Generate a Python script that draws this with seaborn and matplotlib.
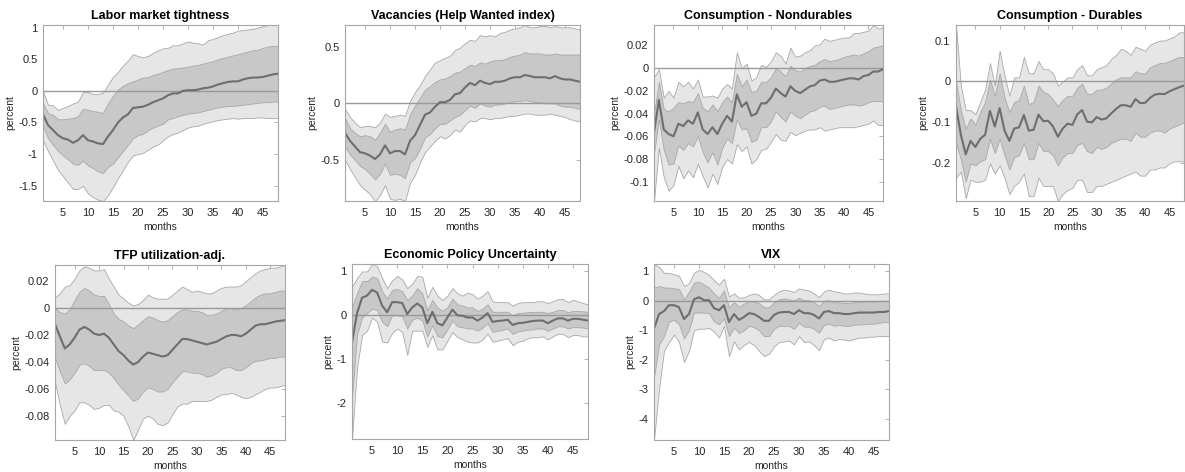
import numpy as np
import pandas as pd
import matplotlib
matplotlib.use("Agg")
import matplotlib.pyplot as plt
import seaborn as sns

months = list(range(1, 49))

# ---- Labor market tightness ----
lmt_med = [-0.37, -0.54, -0.62, -0.70, -0.75, -0.77, -0.82, -0.78, -0.70, -0.78, -0.80, -0.83, -0.84, -0.72, -0.62, -0.50,
           -0.42, -0.37, -0.27, -0.26, -0.25, -0.22, -0.18, -0.15, -0.12, -0.07, -0.04, -0.04, 0.00, 0.01, 0.01, 0.02,
           0.04, 0.05, 0.07, 0.10, 0.12, 0.14, 0.15, 0.15, 0.18, 0.20, 0.21, 0.21, 0.22, 0.24, 0.26, 0.27]
lmt_in_hi = [-0.20, -0.35, -0.38, -0.45, -0.45, -0.44, -0.43, -0.40, -0.28, -0.30, -0.32, -0.33, -0.35, -0.20, -0.08, 0.02,
             0.08, 0.12, 0.15, 0.18, 0.21, 0.22, 0.25, 0.27, 0.30, 0.33, 0.35, 0.36, 0.37, 0.38, 0.40, 0.41,
             0.43, 0.45, 0.47, 0.50, 0.52, 0.54, 0.56, 0.58, 0.60, 0.62, 0.64, 0.65, 0.68, 0.70, 0.71, 0.71]
lmt_in_lo = [-0.55, -0.75, -0.85, -0.95, -1.02, -1.08, -1.15, -1.17, -1.10, -1.18, -1.22, -1.27, -1.30, -1.20, -1.15, -1.05,
             -0.95, -0.85, -0.75, -0.70, -0.68, -0.62, -0.58, -0.55, -0.52, -0.45, -0.43, -0.40, -0.38, -0.36, -0.35, -0.34,
             -0.32, -0.30, -0.28, -0.26, -0.25, -0.24, -0.24, -0.23, -0.22, -0.21, -0.20, -0.19, -0.18, -0.18, -0.17, -0.17]
lmt_out_hi = [0.00, -0.22, -0.23, -0.30, -0.27, -0.24, -0.20, -0.17, -0.02, -0.02, -0.05, -0.05, -0.03, 0.10, 0.22, 0.30,
              0.40, 0.48, 0.58, 0.55, 0.53, 0.55, 0.60, 0.64, 0.67, 0.68, 0.72, 0.72, 0.75, 0.78, 0.76, 0.75,
              0.73, 0.80, 0.82, 0.85, 0.88, 0.90, 0.92, 0.95, 0.96, 0.97, 0.98, 1.00, 1.02, 1.04, 1.04, 1.04]
lmt_out_lo = [-0.78, -0.95, -1.10, -1.25, -1.35, -1.45, -1.55, -1.55, -1.50, -1.62, -1.68, -1.72, -1.74, -1.65, -1.52, -1.38,
              -1.25, -1.12, -1.02, -1.00, -0.98, -0.93, -0.88, -0.85, -0.78, -0.72, -0.68, -0.66, -0.62, -0.58, -0.56, -0.55,
              -0.52, -0.50, -0.48, -0.46, -0.45, -0.44, -0.43, -0.44, -0.43, -0.43, -0.43, -0.42, -0.42, -0.43, -0.43, -0.43]

# ---- Vacancies (Help Wanted index) ----
vac_med = [-0.26, -0.33, -0.38, -0.43, -0.44, -0.46, -0.49, -0.45, -0.37, -0.44, -0.42, -0.42, -0.45, -0.33, -0.28, -0.19,
           -0.10, -0.08, -0.03, 0.01, 0.01, 0.03, 0.08, 0.09, 0.14, 0.18, 0.16, 0.20, 0.18, 0.17, 0.19, 0.19,
           0.20, 0.22, 0.23, 0.23, 0.25, 0.24, 0.23, 0.23, 0.23, 0.22, 0.24, 0.22, 0.21, 0.21, 0.20, 0.19]
vac_in_hi = [-0.13, -0.22, -0.26, -0.29, -0.28, -0.29, -0.32, -0.26, -0.18, -0.25, -0.23, -0.22, -0.23, -0.10, -0.02, 0.05,
             0.12, 0.15, 0.19, 0.21, 0.22, 0.24, 0.27, 0.28, 0.31, 0.34, 0.33, 0.36, 0.35, 0.37, 0.38, 0.38,
             0.39, 0.41, 0.42, 0.43, 0.45, 0.44, 0.44, 0.44, 0.43, 0.43, 0.44, 0.43, 0.43, 0.43, 0.43, 0.43]
vac_in_lo = [-0.38, -0.45, -0.50, -0.55, -0.58, -0.62, -0.67, -0.62, -0.53, -0.63, -0.62, -0.63, -0.66, -0.52, -0.48, -0.40,
             -0.30, -0.27, -0.22, -0.18, -0.18, -0.15, -0.12, -0.10, -0.06, -0.02, -0.04, 0.00, -0.02, -0.03, -0.01, -0.01,
             0.00, 0.01, 0.02, 0.02, 0.03, 0.02, 0.01, 0.01, 0.00, 0.00, 0.00, -0.02, -0.03, -0.03, -0.04, -0.05]
vac_out_hi = [-0.05, -0.12, -0.17, -0.21, -0.20, -0.20, -0.21, -0.17, -0.09, -0.12, -0.11, -0.10, -0.11, 0.02, 0.10, 0.16,
              0.24, 0.30, 0.36, 0.38, 0.40, 0.42, 0.47, 0.49, 0.53, 0.56, 0.55, 0.60, 0.59, 0.60, 0.59, 0.62,
              0.63, 0.65, 0.66, 0.67, 0.69, 0.67, 0.67, 0.68, 0.68, 0.67, 0.68, 0.67, 0.67, 0.67, 0.66, 0.65]
vac_out_lo = [-0.50, -0.58, -0.65, -0.72, -0.76, -0.80, -0.86, -0.81, -0.72, -0.84, -0.85, -0.84, -0.86, -0.70, -0.63, -0.52,
              -0.43, -0.38, -0.33, -0.29, -0.31, -0.28, -0.23, -0.25, -0.19, -0.15, -0.16, -0.13, -0.13, -0.14, -0.13, -0.13,
              -0.12, -0.11, -0.11, -0.10, -0.09, -0.09, -0.10, -0.10, -0.10, -0.09, -0.10, -0.11, -0.12, -0.14, -0.15, -0.16]

# ---- Consumption - Nondurables ----
cnd_med = [-0.057, -0.028, -0.054, -0.058, -0.060, -0.049, -0.051, -0.046, -0.049, -0.039, -0.054, -0.058, -0.052, -0.058, -0.049, -0.042,
           -0.047, -0.023, -0.034, -0.030, -0.042, -0.040, -0.031, -0.031, -0.026, -0.018, -0.022, -0.025, -0.016, -0.020, -0.022, -0.019,
           -0.016, -0.015, -0.011, -0.010, -0.012, -0.012, -0.011, -0.010, -0.009, -0.009, -0.010, -0.007, -0.006, -0.003, -0.003, -0.001]
cnd_in_hi = [-0.040, -0.012, -0.036, -0.038, -0.035, -0.030, -0.031, -0.029, -0.030, -0.022, -0.035, -0.038, -0.032, -0.038, -0.030, -0.025,
             -0.030, -0.005, -0.016, -0.010, -0.021, -0.020, -0.012, -0.012, -0.008, 0.000, -0.003, -0.007, 0.002, -0.002, -0.003, 0.000,
             0.002, 0.003, 0.006, 0.008, 0.006, 0.007, 0.008, 0.010, 0.011, 0.012, 0.011, 0.013, 0.015, 0.018, 0.019, 0.020]
cnd_in_lo = [-0.075, -0.045, -0.072, -0.085, -0.084, -0.068, -0.072, -0.066, -0.069, -0.060, -0.074, -0.083, -0.074, -0.085, -0.070, -0.062,
             -0.066, -0.045, -0.054, -0.053, -0.065, -0.063, -0.052, -0.052, -0.047, -0.038, -0.043, -0.047, -0.038, -0.042, -0.044, -0.041,
             -0.038, -0.037, -0.034, -0.033, -0.036, -0.035, -0.034, -0.033, -0.032, -0.032, -0.033, -0.032, -0.030, -0.029, -0.029, -0.029]
cnd_out_hi = [-0.008, -0.001, -0.026, -0.020, -0.026, -0.012, -0.016, -0.012, -0.018, -0.010, -0.025, -0.025, -0.024, -0.026, -0.018, -0.014,
              -0.018, 0.014, 0.000, 0.004, -0.011, -0.008, 0.003, 0.001, 0.006, 0.014, 0.011, 0.004, 0.018, 0.010, 0.011, 0.014,
              0.016, 0.020, 0.021, 0.026, 0.024, 0.025, 0.026, 0.027, 0.027, 0.031, 0.031, 0.032, 0.033, 0.038, 0.035, 0.036]
cnd_out_lo = [-0.117, -0.070, -0.096, -0.108, -0.103, -0.086, -0.097, -0.090, -0.096, -0.084, -0.095, -0.105, -0.093, -0.102, -0.087, -0.080,
              -0.084, -0.067, -0.073, -0.069, -0.084, -0.080, -0.072, -0.071, -0.065, -0.058, -0.063, -0.064, -0.056, -0.059, -0.057, -0.055,
              -0.054, -0.054, -0.052, -0.055, -0.054, -0.053, -0.052, -0.052, -0.052, -0.052, -0.051, -0.050, -0.049, -0.046, -0.050, -0.050]

# ---- Consumption - Durables ----
cdu_med = [-0.060, -0.130, -0.178, -0.145, -0.160, -0.140, -0.130, -0.072, -0.110, -0.065, -0.120, -0.145, -0.115, -0.112, -0.082, -0.120,
           -0.118, -0.081, -0.097, -0.096, -0.110, -0.135, -0.115, -0.103, -0.106, -0.080, -0.070, -0.098, -0.100, -0.087, -0.093, -0.090,
           -0.078, -0.067, -0.058, -0.058, -0.062, -0.043, -0.053, -0.052, -0.040, -0.032, -0.030, -0.031, -0.024, -0.019, -0.014, -0.010]
cdu_in_hi = [0.000, -0.070, -0.115, -0.090, -0.105, -0.075, -0.050, 0.005, -0.035, 0.020, -0.040, -0.075, -0.050, -0.045, -0.010, -0.055,
             -0.050, -0.010, -0.025, -0.030, -0.045, -0.060, -0.045, -0.035, -0.035, -0.015, -0.005, -0.030, -0.030, -0.020, -0.020, -0.015,
             -0.005, 0.005, 0.010, 0.010, 0.010, 0.025, 0.020, 0.020, 0.035, 0.040, 0.045, 0.045, 0.050, 0.055, 0.060, 0.060]
cdu_in_lo = [-0.150, -0.190, -0.245, -0.200, -0.205, -0.195, -0.190, -0.140, -0.175, -0.140, -0.180, -0.215, -0.185, -0.180, -0.150, -0.190,
             -0.190, -0.150, -0.170, -0.170, -0.180, -0.205, -0.185, -0.175, -0.175, -0.155, -0.150, -0.170, -0.175, -0.160, -0.165, -0.160,
             -0.150, -0.145, -0.140, -0.140, -0.145, -0.125, -0.135, -0.135, -0.125, -0.120, -0.120, -0.125, -0.115, -0.110, -0.105, -0.100]
cdu_out_hi = [0.138, -0.010, -0.070, -0.070, -0.080, -0.050, -0.020, 0.045, -0.010, 0.075, 0.015, -0.035, 0.010, 0.010, 0.060, 0.020,
              0.020, 0.050, 0.030, 0.030, 0.020, -0.010, 0.000, 0.010, 0.010, 0.030, 0.040, 0.015, 0.015, 0.030, 0.035, 0.040,
              0.055, 0.065, 0.080, 0.075, 0.065, 0.085, 0.080, 0.075, 0.090, 0.095, 0.100, 0.100, 0.105, 0.110, 0.120, 0.120]
cdu_out_lo = [-0.235, -0.220, -0.285, -0.240, -0.245, -0.245, -0.240, -0.200, -0.225, -0.205, -0.235, -0.275, -0.255, -0.245, -0.225, -0.280,
              -0.280, -0.235, -0.255, -0.255, -0.255, -0.292, -0.275, -0.265, -0.260, -0.240, -0.240, -0.270, -0.270, -0.255, -0.255, -0.250,
              -0.245, -0.240, -0.235, -0.230, -0.225, -0.220, -0.230, -0.230, -0.215, -0.215, -0.210, -0.210, -0.200, -0.195, -0.195, -0.195]

# ---- TFP utilization-adj. ----
tfp_med = [-0.012, -0.021, -0.030, -0.027, -0.022, -0.016, -0.014, -0.016, -0.019, -0.020, -0.019, -0.022, -0.027, -0.032, -0.035, -0.039,
           -0.042, -0.040, -0.036, -0.033, -0.034, -0.035, -0.036, -0.035, -0.031, -0.027, -0.023, -0.023, -0.024, -0.025, -0.026, -0.027,
           -0.026, -0.025, -0.023, -0.021, -0.020, -0.020, -0.021, -0.019, -0.016, -0.013, -0.012, -0.012, -0.011, -0.010, -0.0095, -0.009]
tfp_in_hi = [0.000, -0.003, -0.004, -0.001, 0.006, 0.012, 0.015, 0.013, 0.010, 0.009, 0.009, 0.003, -0.004, -0.008, -0.010, -0.013,
             -0.015, -0.012, -0.009, -0.006, -0.007, -0.009, -0.010, -0.009, -0.006, -0.003, -0.001, -0.001, -0.002, -0.002, -0.003, -0.005,
             -0.005, -0.004, -0.002, 0.000, 0.000, -0.001, 0.000, 0.002, 0.005, 0.008, 0.010, 0.011, 0.011, 0.012, 0.013, 0.013]
tfp_in_lo = [-0.037, -0.047, -0.056, -0.053, -0.048, -0.042, -0.041, -0.043, -0.046, -0.046, -0.046, -0.048, -0.052, -0.057, -0.061, -0.065,
             -0.069, -0.067, -0.062, -0.059, -0.060, -0.062, -0.062, -0.060, -0.055, -0.051, -0.047, -0.047, -0.048, -0.048, -0.049, -0.051,
             -0.050, -0.048, -0.045, -0.044, -0.044, -0.046, -0.046, -0.044, -0.041, -0.039, -0.039, -0.038, -0.037, -0.037, -0.036, -0.036]
tfp_out_hi = [0.008, 0.011, 0.016, 0.017, 0.022, 0.028, 0.031, 0.030, 0.028, 0.028, 0.029, 0.022, 0.016, 0.010, 0.007, 0.004,
              0.002, 0.003, 0.006, 0.010, 0.008, 0.007, 0.007, 0.007, 0.010, 0.013, 0.016, 0.014, 0.012, 0.013, 0.012, 0.011,
              0.011, 0.013, 0.015, 0.016, 0.016, 0.016, 0.017, 0.020, 0.023, 0.026, 0.028, 0.029, 0.030, 0.030, 0.031, 0.032]
tfp_out_lo = [-0.055, -0.072, -0.086, -0.080, -0.076, -0.070, -0.070, -0.072, -0.075, -0.074, -0.072, -0.072, -0.076, -0.077, -0.080, -0.088,
              -0.098, -0.090, -0.082, -0.080, -0.082, -0.086, -0.087, -0.085, -0.079, -0.073, -0.071, -0.071, -0.069, -0.069, -0.069, -0.069,
              -0.068, -0.066, -0.064, -0.064, -0.063, -0.064, -0.066, -0.067, -0.066, -0.064, -0.062, -0.060, -0.059, -0.059, -0.058, -0.057]

# ---- Economic Policy Uncertainty ----
epu_med = [-0.62, 0.05, 0.40, 0.45, 0.58, 0.52, 0.22, 0.07, 0.30, 0.30, 0.28, 0.03, 0.18, 0.27, 0.18, -0.18,
           0.08, -0.18, -0.23, -0.05, 0.13, 0.00, -0.01, -0.05, -0.05, -0.12, -0.05, 0.05, -0.15, -0.13, -0.12, -0.10,
           -0.22, -0.18, -0.17, -0.15, -0.13, -0.12, -0.12, -0.18, -0.12, -0.07, -0.07, -0.12, -0.08, -0.08, -0.10, -0.12]
epu_in_hi = [0.18, 0.50, 0.78, 0.78, 0.88, 0.85, 0.55, 0.38, 0.58, 0.60, 0.55, 0.35, 0.45, 0.62, 0.50, 0.12,
             0.35, 0.18, 0.10, 0.18, 0.38, 0.25, 0.22, 0.18, 0.18, 0.10, 0.15, 0.25, 0.08, 0.08, 0.08, 0.08,
             0.00, 0.05, 0.06, 0.07, 0.08, 0.08, 0.08, 0.05, 0.08, 0.12, 0.12, 0.07, 0.10, 0.10, 0.09, 0.08]
epu_in_lo = [-1.90, -0.45, -0.05, 0.05, 0.15, 0.12, -0.15, -0.25, 0.00, 0.00, -0.02, -0.30, -0.10, -0.05, -0.12, -0.48,
             -0.22, -0.47, -0.50, -0.32, -0.12, -0.25, -0.27, -0.30, -0.30, -0.35, -0.28, -0.18, -0.38, -0.35, -0.33, -0.30,
             -0.42, -0.37, -0.35, -0.33, -0.32, -0.30, -0.30, -0.35, -0.30, -0.25, -0.25, -0.30, -0.27, -0.27, -0.28, -0.30]
epu_out_hi = [0.65, 0.85, 1.00, 1.00, 1.17, 1.12, 0.85, 0.62, 0.80, 0.90, 0.82, 0.62, 0.72, 0.90, 0.88, 0.40,
              0.65, 0.45, 0.35, 0.45, 0.62, 0.50, 0.45, 0.52, 0.48, 0.38, 0.45, 0.55, 0.32, 0.30, 0.30, 0.30,
              0.22, 0.28, 0.30, 0.30, 0.30, 0.32, 0.32, 0.28, 0.32, 0.37, 0.37, 0.30, 0.35, 0.32, 0.28, 0.25]
epu_out_lo = [-2.82, -1.20, -0.45, -0.35, -0.05, -0.15, -0.60, -0.62, -0.40, -0.30, -0.38, -0.90, -0.35, -0.35, -0.35, -0.72,
              -0.45, -0.78, -0.78, -0.58, -0.38, -0.50, -0.55, -0.60, -0.62, -0.62, -0.55, -0.42, -0.60, -0.58, -0.55, -0.52,
              -0.68, -0.60, -0.58, -0.52, -0.50, -0.50, -0.48, -0.55, -0.48, -0.42, -0.42, -0.50, -0.45, -0.45, -0.48, -0.48]

# ---- VIX ----
vix_med = [-0.95, -0.45, -0.35, -0.15, -0.15, -0.22, -0.62, -0.45, 0.05, 0.12, 0.02, 0.02, -0.25, -0.32, -0.15, -0.72,
           -0.45, -0.65, -0.55, -0.42, -0.45, -0.55, -0.68, -0.68, -0.48, -0.40, -0.38, -0.38, -0.45, -0.32, -0.42, -0.42,
           -0.48, -0.60, -0.38, -0.35, -0.42, -0.42, -0.45, -0.45, -0.42, -0.40, -0.40, -0.40, -0.40, -0.38, -0.38, -0.35]
vix_in_hi = [0.45, 0.50, 0.45, 0.45, 0.42, 0.40, 0.05, 0.30, 0.62, 0.65, 0.55, 0.45, 0.25, 0.10, 0.35, -0.22,
             -0.05, -0.20, -0.10, 0.00, -0.02, -0.08, -0.22, -0.22, -0.05, 0.05, 0.08, 0.05, 0.02, 0.10, 0.02, 0.02,
             -0.05, -0.18, 0.00, 0.02, -0.05, -0.05, -0.07, -0.07, -0.05, -0.03, -0.03, -0.03, -0.03, 0.00, 0.00, 0.00]
vix_in_lo = [-2.60, -1.50, -1.20, -0.70, -0.65, -0.80, -1.28, -1.00, -0.40, -0.40, -0.40, -0.42, -0.70, -0.80, -0.60, -1.20,
             -0.90, -1.10, -1.00, -0.85, -0.90, -1.00, -1.20, -1.20, -0.95, -0.85, -0.85, -0.85, -0.95, -0.75, -0.88, -0.88,
             -0.95, -1.08, -0.82, -0.78, -0.85, -0.82, -0.85, -0.85, -0.82, -0.80, -0.80, -0.78, -0.78, -0.75, -0.72, -0.72]
vix_out_hi = [1.25, 1.15, 0.95, 0.95, 0.90, 0.85, 0.50, 0.60, 0.95, 1.05, 0.98, 0.88, 0.70, 0.55, 0.75, 0.15,
              0.25, 0.10, 0.12, 0.20, 0.25, 0.20, 0.05, 0.05, 0.20, 0.32, 0.38, 0.35, 0.30, 0.42, 0.38, 0.35,
              0.25, 0.12, 0.32, 0.38, 0.32, 0.30, 0.25, 0.25, 0.28, 0.28, 0.25, 0.22, 0.22, 0.22, 0.25, 0.25]
vix_out_lo = [-4.73, -3.00, -1.70, -1.40, -1.15, -1.40, -2.08, -1.70, -1.00, -0.95, -0.95, -0.92, -1.05, -1.25, -0.85, -1.88,
              -1.38, -1.65, -1.50, -1.40, -1.50, -1.70, -1.88, -1.80, -1.55, -1.40, -1.38, -1.35, -1.48, -1.20, -1.40, -1.38,
              -1.50, -1.68, -1.30, -1.25, -1.35, -1.30, -1.32, -1.35, -1.30, -1.25, -1.25, -1.22, -1.22, -1.20, -1.20, -1.20]

titles = ["Labor market tightness", "Vacancies (Help Wanted index)", "Consumption - Nondurables",
          "Consumption - Durables", "TFP utilization-adj.", "Economic Policy Uncertainty", "VIX"]
yticks = [[-1.5, -1, -0.5, 0, 0.5, 1],
          [-0.5, 0, 0.5],
          [-0.1, -0.08, -0.06, -0.04, -0.02, 0, 0.02],
          [-0.2, -0.1, 0, 0.1],
          [-0.08, -0.06, -0.04, -0.02, 0, 0.02],
          [-2, -1, 0, 1],
          [-4, -3, -2, -1, 0, 1]]
xticks = [5, 10, 15, 20, 25, 30, 35, 40, 45]

series = [
    (lmt_med, lmt_in_lo, lmt_in_hi, lmt_out_lo, lmt_out_hi),
    (vac_med, vac_in_lo, vac_in_hi, vac_out_lo, vac_out_hi),
    (cnd_med, cnd_in_lo, cnd_in_hi, cnd_out_lo, cnd_out_hi),
    (cdu_med, cdu_in_lo, cdu_in_hi, cdu_out_lo, cdu_out_hi),
    (tfp_med, tfp_in_lo, tfp_in_hi, tfp_out_lo, tfp_out_hi),
    (epu_med, epu_in_lo, epu_in_hi, epu_out_lo, epu_out_hi),
    (vix_med, vix_in_lo, vix_in_hi, vix_out_lo, vix_out_hi),
]

sns.set_theme(style="white")
plt.rcParams["font.family"] = ["Liberation Sans", "DejaVu Sans"]
plt.rcParams["axes.linewidth"] = 0.8

W, H = 1185, 472
fig = plt.figure(figsize=(W / 100, H / 100), dpi=100)

# axes boxes in pixels: (left, top, right, bottom)
boxes = [(43, 25, 278, 201), (345, 25, 580, 201), (654, 25, 883, 201), (956, 25, 1184, 201),
         (55, 265, 285, 440), (352, 264, 588, 439), (654, 264, 889, 440)]

AX_COL = "#a6a6a6"
TXT_COL = "#262626"

def fmt(v):
    return f"{v:g}"

for i, (title, (med, in_lo, in_hi, out_lo, out_hi)) in enumerate(zip(titles, series)):
    l, t, r, b = boxes[i]
    ax = fig.add_axes([l / W, 1 - b / H, (r - l) / W, (b - t) / H])
    df = pd.DataFrame({"month": months, "median": med, "in_lo": in_lo, "in_hi": in_hi,
                       "out_lo": out_lo, "out_hi": out_hi})
    ax.fill_between(df["month"], df["out_lo"], df["out_hi"], facecolor="#e6e6e6",
                    edgecolor="#a8a8a8", linewidth=0.6, zorder=1)
    ax.fill_between(df["month"], df["in_lo"], df["in_hi"], facecolor="#c8c8c8",
                    edgecolor="#a8a8a8", linewidth=0.6, zorder=2)
    ax.axhline(0, color="#999999", linewidth=1.0, zorder=3)
    sns.lineplot(data=df, x="month", y="median", ax=ax, color="#6e6e6e", linewidth=1.5, zorder=4)
    ax.set_xlim(1, 48)
    ax.set_ylim(min(out_lo), max(out_hi))
    ax.set_xticks(xticks)
    ax.set_xticklabels([fmt(v) for v in xticks])
    ax.set_yticks(yticks[i])
    ax.set_yticklabels([fmt(v) for v in yticks[i]])
    ax.tick_params(direction="in", length=3, width=0.6, colors=AX_COL, labelcolor=TXT_COL,
                   labelsize=8, top=True, right=True)
    ax.tick_params(axis="x", pad=5)
    ax.tick_params(axis="y", pad=4)
    for sp in ax.spines.values():
        sp.set_color(AX_COL)
        sp.set_linewidth(0.8)
        sp.set_zorder(5)
    ax.set_title(title, fontsize=9, fontweight="bold", color="#000000", pad=4)
    ax.set_xlabel("months", fontsize=7.5, color=TXT_COL, labelpad=3)
    ax.set_ylabel("percent", fontsize=7.5, color=TXT_COL, labelpad=2)

fig.savefig("out.png", dpi=100, facecolor="white")
